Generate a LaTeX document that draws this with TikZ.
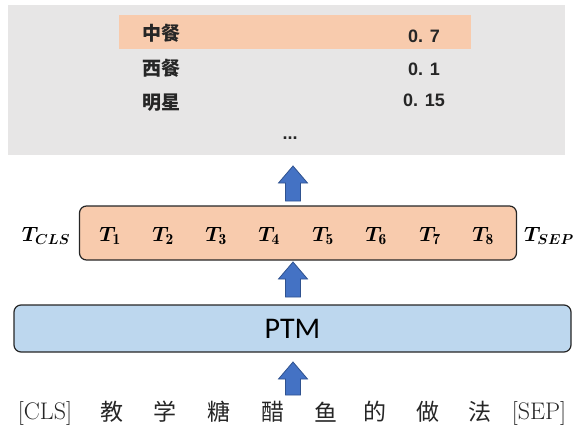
\documentclass[tikz,border=0pt]{standalone}
\usepackage{fontspec}
\usepackage{amsmath,bm}
\newfontfamily\cjk{Noto Sans CJK SC}
\newfontfamily\carlfont{Carlito}
\newfontfamily\arialfont{Liberation Sans}
\definecolor{panelgray}{HTML}{E7E6E6}
\definecolor{orng}{HTML}{F8CBAD}
\definecolor{lblue}{HTML}{BDD7EE}
\definecolor{abl}{HTML}{4472C4}
\definecolor{abd}{HTML}{2F528F}
\tikzset{
  blockarr/.style={fill=abl,draw=abd,line width=0.8pt,line join=miter},
  listtxt/.style={font=\cjk\bfseries\fontsize{19}{22}\selectfont,text=black!85},
  numtxt/.style={font=\arialfont\bfseries\fontsize{18}{21}\selectfont,text=black!85},
  tok/.style={font=\fontsize{22}{26}\selectfont},
  intok/.style={font=\fontsize{24}{28}\selectfont,text=black!85},
  incjk/.style={font=\cjk\fontsize{23}{26}\selectfont,text=black!85},
  rbox/.style={draw=black!85,line width=1.2pt,rounded corners=7pt}
}
\newcommand\barrow[3]{\draw[blockarr] (#1,#2) -- (#1+14.5,#2+17) -- (#1+7.5,#2+17) -- (#1+7.5,#3) -- (#1-7.5,#3) -- (#1-7.5,#2+17) -- (#1-14.5,#2+17) -- cycle;}
\newcommand\tk[1]{$\bm{T}_{\mathbf{#1}}$}
\begin{document}
\begin{tikzpicture}[x=1pt,y=-1pt]
\useasboundingbox (0,0) rectangle (573,433);
\node (panel) at (286.5,80) [fill=panelgray,minimum width=557pt,minimum height=150pt,inner sep=0pt] {};
\node (hl) at (295,32) [fill=orng,minimum width=352pt,minimum height=34pt,inner sep=0pt] {};
\node (c1) at (161,33.5) [listtxt] {中餐};
\node (v1) at (424,36) [numtxt] {0. 7};
\node (c2) at (161,68.5) [listtxt] {西餐};
\node (v2) at (424,69) [numtxt] {0. 1};
\node (c3) at (161,103) [listtxt] {明星};
\node (v3) at (424,100) [numtxt] {0. 15};
\node (dots) at (290,138) [numtxt] {...};
% top arrow
\barrow{293}{166}{201}
% token box
\node (tbox) at (298,233) [rbox,fill=orng,minimum width=437pt,minimum height=54pt] {};
\node (tcls) at (46,236) [tok] {$\bm{T_{CLS}}$};
\node (t1) at (110,236) [tok] {\tk{1}};
\node (t2) at (163,236) [tok] {\tk{2}};
\node (t3) at (216,236) [tok] {\tk{3}};
\node (t4) at (269,236) [tok] {\tk{4}};
\node (t5) at (323,236) [tok] {\tk{5}};
\node (t6) at (376,236) [tok] {\tk{6}};
\node (t7) at (430,236) [tok] {\tk{7}};
\node (t8) at (483,236) [tok] {\tk{8}};
\node (tsep) at (549,236) [tok] {$\bm{T_{SEP}}$};
% middle arrow
\barrow{293}{262}{297}
% PTM
\node (ptm) at (292.5,328.5) [rbox,fill=lblue,minimum width=557pt,minimum height=47pt,font=\carlfont\fontsize{30}{32}\selectfont] {PTM};
% bottom arrow
\barrow{293}{362}{395}
% input tokens
\node (icls) at (45,413) [intok] {[CLS]};
\node (i1) at (112,412) [incjk] {教};
\node (i2) at (165,412) [incjk] {学};
\node (i3) at (219,412) [incjk] {糖};
\node (i4) at (273,412) [incjk] {醋};
\node (i5) at (326,412) [incjk] {鱼};
\node (i6) at (375,412) [incjk] {的};
\node (i7) at (428,412) [incjk] {做};
\node (i8) at (480,412) [incjk] {法};
\node (isep) at (539,413) [intok] {[SEP]};
\end{tikzpicture}
\end{document}
